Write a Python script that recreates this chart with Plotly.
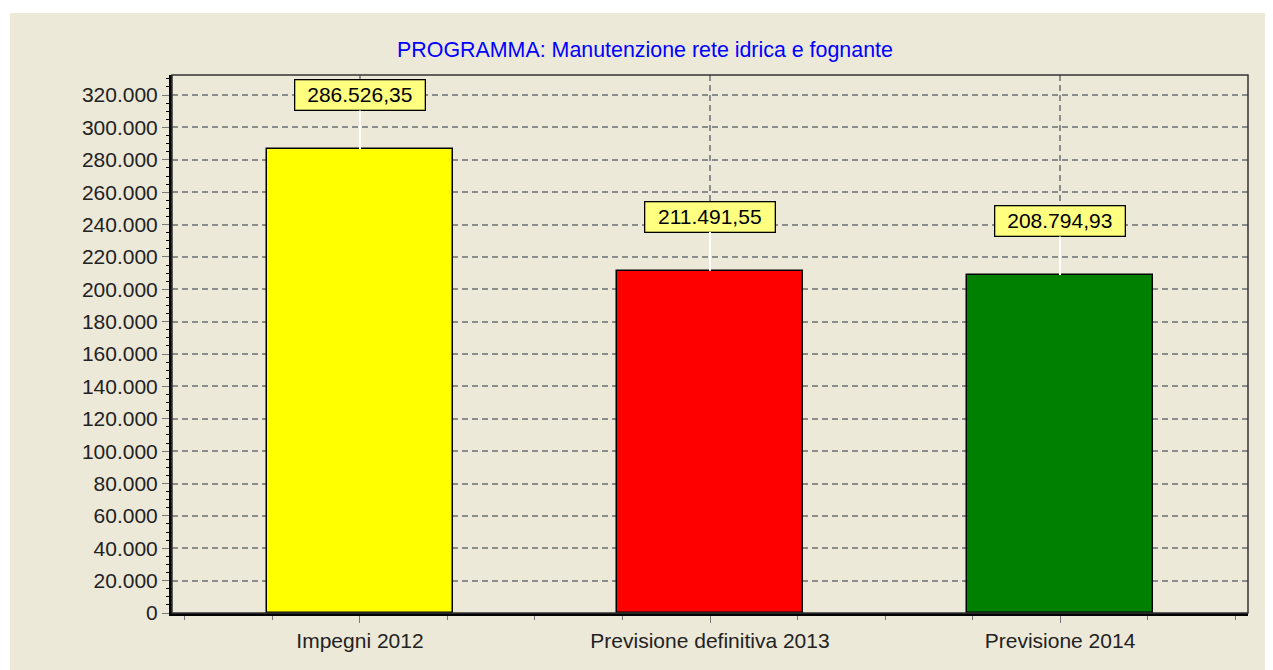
import plotly.graph_objects as go

categorie = ["Impegni 2012", "Previsione definitiva 2013", "Previsione 2014"]
valori = [286526.35, 211491.55, 208794.93]
colori = ["#FFFF00", "#FF0000", "#008000"]
titolo = "PROGRAMMA: Manutenzione rete idrica e fognante"

BEIGE = "#ECE9D8"
FONT = "Liberation Sans, Arial, sans-serif"

# la pagina ha 8px di margine: la figura parte da (8, 8)
W, H = 1265, 662
L, T, R, B = 164, 67, 25, 57
PW, PH = W - L - R, H - T - B


def formato_it(v):
    # 286526.35 -> 286.526,35
    return f"{v:,.2f}".replace(",", "#").replace(".", ",").replace("#", ".")


xs = list(range(len(categorie)))

fig = go.Figure()
fig.add_trace(go.Bar(
    x=xs, y=valori, width=0.53,
    marker=dict(color=colori, line=dict(color="black", width=1.5)),
    hoverinfo="skip", showlegend=False,
))

for x, v in zip(xs, valori):
    fig.add_annotation(
        x=x, y=v, xref="x", yref="y",
        text=formato_it(v),
        showarrow=True, arrowhead=0, arrowwidth=2, arrowcolor="white",
        ax=0, ay=-54, standoff=0,
        bgcolor="#FFFF80", bordercolor="black", borderwidth=1.3,
        borderpad=1, width=127, height=27,
        font=dict(family=FONT, size=21, color="black"),
    )

# sfondo beige del pannello (bordo bianco in alto e a sinistra)
fig.add_shape(type="rect", xref="paper", yref="paper",
              x0=(2 - L) / PW, x1=(W - L) / PW,
              y0=-B / PH, y1=(PH + T - 5) / PH,
              fillcolor=BEIGE, line_width=0, layer="below")
# cornice sottile alto/destra
fig.add_shape(type="rect", xref="paper", yref="paper", x0=0, x1=1, y0=0, y1=1,
              line=dict(color="#333333", width=1.5), layer="above")

fig.update_layout(
    width=W, height=H,
    margin=dict(l=L, r=R, t=T, b=B),
    paper_bgcolor="white", plot_bgcolor=BEIGE,
    separators=",.",
    font=dict(family=FONT, size=21, color="#222222"),
    title=dict(text=titolo, x=637 / W, xref="container", xanchor="center",
               y=1 - 42 / H, yanchor="middle",
               font=dict(family=FONT, size=21.4, color="#0000FF")),
    bargap=0,
)

fig.update_xaxes(
    range=[-0.537, 2.537],
    tickvals=xs, ticktext=categorie,
    showgrid=True, gridcolor="#8C8C8C", griddash="6px,4px", gridwidth=1.7,
    showline=True, linecolor="black", linewidth=3,
    ticks="outside", ticklen=7, tickcolor="#777777", tickwidth=1,
    minor=dict(dtick=0.25, tick0=-0.5, ticks="outside", ticklen=4,
               tickcolor="#777777", showgrid=False),
    zeroline=False, fixedrange=True,
)
fig.update_yaxes(
    range=[0, 332400], dtick=20000, tickformat=",d",
    showgrid=True, gridcolor="#8C8C8C", griddash="6px,4px", gridwidth=1.7,
    showline=True, linecolor="black", linewidth=3,
    ticks="outside", ticklen=7, tickcolor="#777777", tickwidth=1,
    minor=dict(dtick=5000, ticks="outside", ticklen=3, tickcolor="black",
               showgrid=False),
    zeroline=False, fixedrange=True,
)

fig.write_html("out.html")
